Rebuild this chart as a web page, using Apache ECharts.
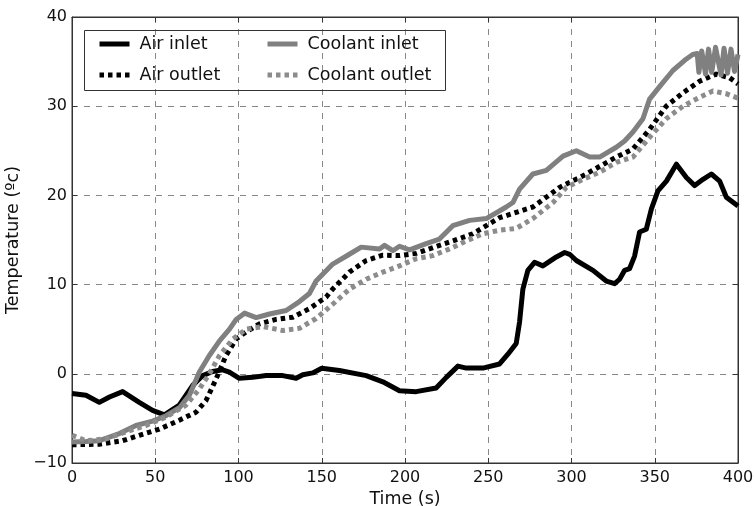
<!DOCTYPE html>
<html>
<head>
<meta charset="utf-8">
<script src="https://cdn.jsdelivr.net/npm/echarts@6/dist/echarts.min.js"></script>
<style>html,body{margin:0;padding:0;background:#fff}#c{width:755px;height:506px}</style>
</head>
<body>
<div id="c"></div>
<script>
var xTicks = [0, 50, 100, 150, 200, 250, 300, 350, 400];
var yTicks = [-10, 0, 10, 20, 30, 40];
var seriesNames = ['Air inlet', 'Air outlet', 'Coolant inlet', 'Coolant outlet'];

var airInlet = [[0,-2.2],[8.4,-2.4],[16.4,-3.2],[22.5,-2.6],[30.4,-2.0],[40.4,-3.2],[48.4,-4.1],[55.5,-4.6],
  [64.5,-3.5],[68.5,-2.4],[72.5,-1.3],[78.5,-0.2],[84.5,0.26],[90.5,0.45],[94.5,0.2],[100.5,-0.5],[108.5,-0.4],
  [116.6,-0.2],[126.6,-0.2],[134.6,-0.5],[138.6,-0.1],[144.6,0.1],[150,0.62],[160.6,0.37],[176.7,-0.2],[186.7,-0.9],
  [196.7,-1.9],[206.7,-2.0],[218.7,-1.6],[224.8,-0.4],[231.8,0.86],[236.8,0.64],[246.8,0.64],[256.8,1.1],[261.8,2.2],
  [266.8,3.4],[268.8,5.8],[270.8,9.5],[273.8,11.6],[277.8,12.5],[282.8,12.1],[290.9,13.1],[295.9,13.6],[298.9,13.4],
  [302.9,12.7],[312.9,11.6],[320.9,10.4],[325.9,10.1],[328.9,10.6],[331.9,11.6],[334.9,11.8],[337.9,13.2],[340.9,15.9],
  [344.9,16.2],[348,18.5],[351.9,20.5],[357,21.6],[363,23.5],[369,22.0],[374,21.1],[379,21.8],[384,22.4],[389,21.6],
  [393,19.8],[400,18.8]];

var airOutlet = [[0,-7.95],[16.4,-7.9],[30.4,-7.5],[40.4,-6.9],[52.5,-6.2],[64.5,-5.2],[74.5,-4.3],[80.5,-3.0],
  [86.5,-0.6],[92.5,2.05],[98.6,3.9],[104.6,4.7],[112.6,5.6],[122.6,6.1],[132.6,6.35],[142.6,7.3],[152.6,8.6],
  [156.6,9.5],[166.6,11.4],[176.7,12.7],[186.7,13.3],[196.7,13.25],[206.7,13.5],[220.7,14.4],[228.8,14.9],[240.8,15.7],
  [256.8,17.5],[276.8,18.7],[292.9,20.9],[306.9,22.2],[326.9,24.3],[336.9,25.2],[346.9,27.4],[356.9,30.0],[366.9,31.5],
  [376.9,32.8],[386.9,33.6],[394.9,33.2],[400,32.5]];

var coolantInlet = [[0,-7.65],[8.4,-7.6],[16.4,-7.5],[28.4,-6.7],[38.4,-5.8],[48.4,-5.3],[56.5,-4.7],[64.5,-3.8],
  [70.5,-2.4],[76.5,0.2],[82.5,2.05],[88.6,3.7],[94.6,5.0],[98.6,6.1],[103.6,6.8],[110.6,6.3],[118.6,6.7],[128.6,7.1],
  [136.6,8.1],[142.6,9.0],[146.6,10.4],[156.6,12.3],[166.6,13.4],[173.7,14.2],[184.7,14.0],[187.7,14.4],[192.7,13.8],
  [196.7,14.3],[202.7,13.9],[212.7,14.6],[220.7,15.1],[228.7,16.6],[238.8,17.2],[248.8,17.4],[260.8,18.7],[264.8,19.2],
  [268.8,20.7],[276.8,22.4],[284.9,22.8],[294.9,24.4],[302.9,25.0],[310.9,24.3],[316.9,24.3],[326.9,25.4],[331.9,26.1],
  [336.9,27.1],[342.9,28.6],[346.9,30.8],[352.9,32.2],[360.9,34.0],[369,35.3],[372.8,35.8],[375.5,35.9],[376.5,33.8],
  [378.2,36.2],[380.5,33.6],[382.3,36.4],[384.2,33.8],[386.5,36.6],[389.8,33.5],[391.6,36.5],[393.7,33.7],[395.8,36.4],
  [397.9,33.9],[400,35.8]];

var coolantOutlet = [[0,-6.9],[8.4,-7.5],[20.4,-7.3],[32.4,-6.5],[44.4,-5.8],[56.5,-4.85],[68.5,-3.5],[76.5,-1.7],
  [82.5,0],[88.6,2.05],[96.6,3.9],[104.6,5.0],[114.6,5.3],[126.6,4.85],[136.6,5.1],[146.6,6.2],[156.6,7.8],[166.6,9.5],
  [176.7,10.6],[186.7,11.4],[196.7,12.1],[206.7,12.9],[216.7,13.25],[226.8,14.0],[236.8,14.9],[246.8,15.7],[256.8,16.1],
  [266.8,16.3],[276.8,17.4],[288.9,19.2],[296.9,20.9],[306.9,21.8],[316.9,22.6],[326.9,23.7],[336.9,24.3],[346.9,26.5],
  [356.9,28.6],[366.9,30.0],[376.9,31.0],[384.9,31.7],[392.9,31.4],[400,30.9]];

var FONT = 'DejaVu Sans';
var chart = echarts.init(document.getElementById('c'), null, {renderer: 'canvas'});
var gridLine = {show: true, lineStyle: {color: '#888', type: [6, 6], width: 1}};
var axisLineStyle = {show: true, onZero: false, lineStyle: {color: '#333', width: 1}};
var tickStyle = {show: true, inside: true, length: 5, lineStyle: {color: '#333'}};
function fmt(v) { return String(v).replace('-', '\u2212'); }

function mkSeries(name, data, color, dotted) {
  return {
    name: name, type: 'line', data: data, showSymbol: false, symbol: 'none',
    xAxisIndex: 0, yAxisIndex: 0, animation: false,
    lineStyle: {color: color, width: 5, type: dotted ? [4.5, 4] : 'solid', cap: 'butt', join: 'round'},
    itemStyle: {color: color}
  };
}

var legendCommon = {
  orient: 'vertical', top: 30, itemWidth: 30, itemHeight: 14, itemGap: 13,
  textStyle: {fontFamily: FONT, fontSize: 17.5, color: '#111', padding: [0, 0, 0, 5]},
  itemStyle: {opacity: 0, borderWidth: 0},
  lineStyle: {width: 5},
  selectedMode: false
};

chart.setOption({
  animation: false,
  backgroundColor: '#fff',
  grid: {left: 72, right: 17, top: 17, bottom: 43, show: true, borderColor: '#333', borderWidth: 1,
         containLabel: false, outerBoundsMode: 'none'},
  xAxis: [{
    type: 'value', min: 0, max: 400, interval: 50,
    name: 'Time (s)', nameLocation: 'middle', nameGap: 26,
    nameTextStyle: {fontFamily: FONT, fontSize: 17.5, color: '#111'},
    axisLine: axisLineStyle, axisTick: tickStyle, splitLine: gridLine,
    axisLabel: {fontFamily: FONT, fontSize: 16, color: '#111', margin: 7, formatter: fmt}
  }, {
    type: 'value', position: 'top', min: 0, max: 400, interval: 50,
    axisLine: axisLineStyle, axisTick: tickStyle, splitLine: {show: false}, axisLabel: {show: false}
  }],
  yAxis: [{
    type: 'value', min: -10, max: 40, interval: 10,
    name: 'Temperature (ºc)', nameLocation: 'middle', nameGap: 43,
    nameTextStyle: {fontFamily: FONT, fontSize: 17.5, color: '#111'},
    axisLine: axisLineStyle, axisTick: tickStyle, splitLine: gridLine,
    axisLabel: {fontFamily: FONT, fontSize: 16, color: '#111', margin: 5, formatter: fmt}
  }, {
    type: 'value', position: 'right', min: -10, max: 40, interval: 10,
    axisLine: axisLineStyle, axisTick: tickStyle, splitLine: {show: false}, axisLabel: {show: false}
  }],
  legend: [
    Object.assign({}, legendCommon, {data: ['Air inlet', 'Air outlet'], left: 92}),
    Object.assign({}, legendCommon, {data: ['Coolant inlet', 'Coolant outlet'], left: 260})
  ],
  graphic: [{
    type: 'rect', left: 82, top: 28, silent: true, z: 100,
    shape: {width: 361, height: 60},
    style: {fill: 'none', stroke: '#333', lineWidth: 1}
  }],
  series: [
    mkSeries(seriesNames[0], airInlet, '#000', false),
    mkSeries(seriesNames[1], airOutlet, '#000', true),
    mkSeries(seriesNames[2], coolantInlet, '#808080', false),
    mkSeries(seriesNames[3], coolantOutlet, '#8c8c8c', true)
  ]
});
</script>
</body>
</html>
